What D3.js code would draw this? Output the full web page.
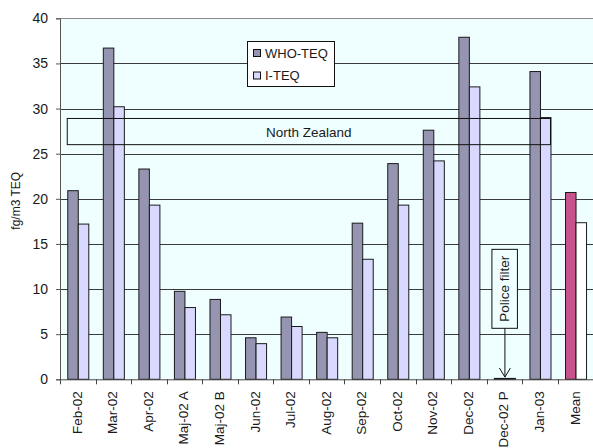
<!DOCTYPE html>
<html>
<head>
<meta charset="utf-8">
<script src="https://cdn.jsdelivr.net/npm/d3@7"></script>
<style>
  html, body { margin: 0; padding: 0; background: #ffffff; }
  svg { display: block; font-family: "Liberation Sans", Arial, sans-serif; }
</style>
</head>
<body>
<svg id="chart" width="593" height="448"></svg>
<script>
// Monthly dioxin air concentrations, fg/m3 TEQ
const categories = ["Feb-02", "Mar-02", "Apr-02", "Maj-02 A", "Maj-02 B", "Jun-02", "Jul-02",
  "Aug-02", "Sep-02", "Oct-02", "Nov-02", "Dec-02", "Dec-02 P", "Jan-03", "Mean"];
const series = ["WHO-TEQ", "I-TEQ"];
const whoTeq = [20.9, 36.7, 23.3, 9.75, 8.85, 4.6, 6.9, 5.2, 17.3, 23.9, 27.6, 37.9, 0.1, 34.1, 20.7];
const iTeq   = [17.2, 30.2, 19.3, 7.95, 7.15, 3.95, 5.85, 4.6, 13.3, 19.3, 24.2, 32.4, 0.1, 29.0, 17.35];
const yTicks = [0, 5, 10, 15, 20, 25, 30, 35, 40];
// North Zealand reference range, spanning Feb-02 .. Jan-03
const regionRange = [26.0, 28.9];
const regionLabel = "North Zealand";
const regionFrom = "Feb-02", regionTo = "Jan-03";
const noteCategory = "Dec-02 P";
const noteText = "Police filter";

const colors = { "WHO-TEQ": "#9595b2", "I-TEQ": "#d9d9ff" };
const meanColors = { "WHO-TEQ": "#c8528c", "I-TEQ": "#ffffff" };

const svg = d3.select("#chart");
const plot = { left: 60, right: 593.3, top: 18.3, bottom: 379.3 };

const x = d3.scaleBand().domain(categories).range([plot.left, plot.right]).paddingInner(0).paddingOuter(0);
const xs = d3.scaleBand().domain(series).range([0, x.bandwidth()]).paddingInner(0).paddingOuter(0.69);
const y = d3.scaleLinear().domain([0, 40]).range([plot.bottom, plot.top]);

// plot background
svg.append("rect")
  .attr("x", plot.left).attr("y", plot.top)
  .attr("width", plot.right - plot.left + 2).attr("height", plot.bottom - plot.top)
  .attr("fill", "#efffff");

// horizontal gridlines
svg.append("g").selectAll("line").data(yTicks.filter(d => d > 0)).join("line")
  .attr("x1", plot.left).attr("x2", 593)
  .attr("y1", d => Math.round(y(d)) + 0.5).attr("y2", d => Math.round(y(d)) + 0.5)
  .attr("stroke", d => d === 40 ? "#8a8a8a" : "#3a3a3a").attr("stroke-width", 1);

// bars
const rows = categories.map((c, i) => ({ cat: c, vals: [whoTeq[i], iTeq[i]] }));
const groups = svg.append("g").selectAll("g").data(rows).join("g")
  .attr("transform", d => `translate(${x(d.cat)},0)`);
groups.selectAll("rect").data(d => d.vals.map((v, j) => ({ cat: d.cat, s: series[j], v })))
  .join("rect")
  .attr("x", d => xs(d.s) + 0.5)
  .attr("y", d => y(d.v))
  .attr("width", xs.bandwidth())
  .attr("height", d => y(0) - y(d.v))
  .attr("fill", d => d.cat === "Mean" ? meanColors[d.s] : colors[d.s])
  .attr("stroke", "#1a1a1a").attr("stroke-width", 1);

// North Zealand range box
const rx0 = x(regionFrom) + xs("WHO-TEQ");
const rx1 = x(regionTo) + xs("I-TEQ") + xs.bandwidth();
svg.append("rect")
  .attr("x", rx0).attr("y", y(regionRange[1]))
  .attr("width", rx1 - rx0).attr("height", y(regionRange[0]) - y(regionRange[1]))
  .attr("fill", "none").attr("stroke", "#111").attr("stroke-width", 1);
svg.append("text")
  .attr("x", (rx0 + rx1) / 2).attr("y", (y(regionRange[0]) + y(regionRange[1])) / 2 + 5)
  .attr("text-anchor", "middle").attr("font-size", 13.5).attr("fill", "#1a1a1a")
  .text(regionLabel);

// axes
const yAxis = svg.append("g").attr("transform", `translate(${plot.left},0)`)
  .call(d3.axisLeft(y).tickValues(yTicks).tickSize(4).tickPadding(8));
yAxis.select(".domain").attr("stroke", "#555");
yAxis.selectAll(".tick line").attr("stroke", "#555");
yAxis.selectAll("text").attr("font-size", 14).attr("fill", "#1a1a1a")
  .attr("font-family", "Liberation Sans, Arial, sans-serif");

const bounds = categories.map(c => x(c)).concat([plot.right]);
svg.append("line").attr("x1", plot.left).attr("x2", 593)
  .attr("y1", plot.bottom + 0.5).attr("y2", plot.bottom + 0.5).attr("stroke", "#444");
svg.append("g").selectAll("line").data(bounds).join("line")
  .attr("x1", d => Math.round(d) + 0.5).attr("x2", d => Math.round(d) + 0.5)
  .attr("y1", plot.bottom).attr("y2", plot.bottom + 5).attr("stroke", "#444");
svg.append("g").selectAll("text").data(categories).join("text")
  .attr("transform", d => `translate(${x(d) + x.bandwidth() / 2 + 4},${plot.bottom + 12}) rotate(-90)`)
  .attr("text-anchor", "end").attr("font-size", 13.5).attr("fill", "#1a1a1a")
  .text(d => d);

// y-axis title
svg.append("text")
  .attr("transform", `translate(20,${(plot.top + plot.bottom) / 2 + 2}) rotate(-90)`)
  .attr("text-anchor", "middle").attr("font-size", 12).attr("fill", "#1a1a1a")
  .text("fg/m3 TEQ");

// police filter note with arrow
const nx = x(noteCategory) + x.bandwidth() / 2;
const note = svg.append("g");
note.append("rect").attr("x", nx - 12.5).attr("y", y(14.4)).attr("width", 25.5)
  .attr("height", y(5.65) - y(14.4)).attr("fill", "#efffff").attr("stroke", "#111");
note.append("text")
  .attr("transform", `translate(${nx + 5},${(y(14.4) + y(5.65)) / 2}) rotate(-90)`)
  .attr("text-anchor", "middle").attr("font-size", 13.5).attr("fill", "#1a1a1a").text(noteText);
note.append("line").attr("x1", nx + 0.5).attr("x2", nx + 0.5)
  .attr("y1", y(5.65)).attr("y2", y(0.25)).attr("stroke", "#111");
note.append("path")
  .attr("d", `M${nx - 5},${y(0.25) - 9} L${nx + 0.5},${y(0.25)} L${nx + 6},${y(0.25) - 9}`)
  .attr("fill", "none").attr("stroke", "#111");

// legend
const lg = svg.append("g").attr("transform", "translate(247.5,41.5)");
lg.append("rect").attr("width", 87).attr("height", 45).attr("fill", "#fff").attr("stroke", "#111");
series.forEach((s, i) => {
  lg.append("rect").attr("x", 6).attr("y", 8 + i * 22.5).attr("width", 7).attr("height", 7)
    .attr("fill", colors[s]).attr("stroke", "#111");
  lg.append("text").attr("x", 17.5).attr("y", 16 + i * 22.5).attr("font-size", 13)
    .attr("fill", "#1a1a1a").text(s);
});
</script>
</body>
</html>
